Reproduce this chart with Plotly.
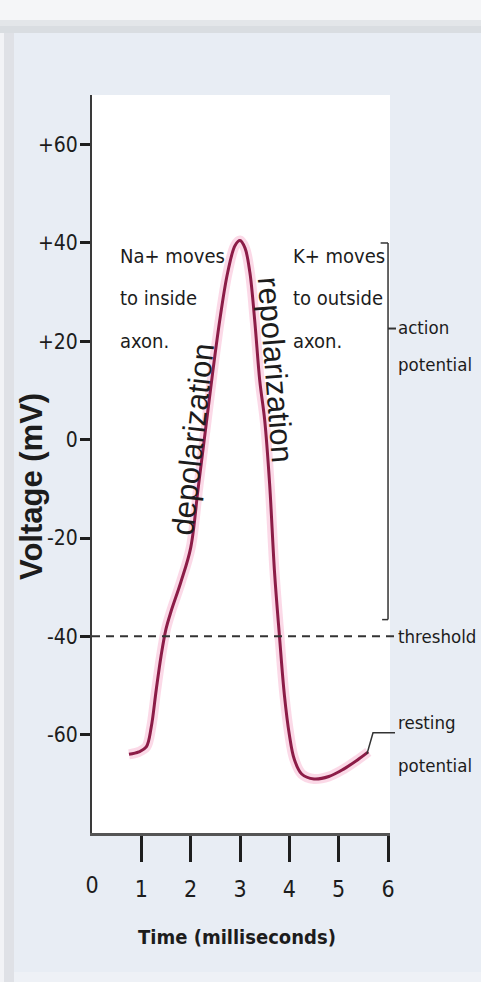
import plotly.graph_objects as go

# ---- data ----
time_ms = [0.75, 0.95, 1.1, 1.2, 1.3, 1.4, 1.5, 1.6, 1.8, 2.0, 2.15, 2.3, 2.45, 2.6, 2.75,
           2.9, 3.0, 3.1, 3.2, 3.3, 3.4, 3.5, 3.6, 3.7, 3.8, 3.9, 4.0, 4.1, 4.25, 4.5,
           4.8, 5.1, 5.4, 5.6]
voltage_mv = [-64, -63.5, -62.5, -58.5, -51, -44, -38.5, -35, -29, -22, -10, 2, 14, 25, 34,
              39.5, 40.5, 39, 34, 24, 12, 4, -9, -27, -40, -52, -60, -65, -68, -69,
              -68.5, -67, -65, -63.5]
y_tick_vals = [60, 40, 20, 0, -20, -40, -60]
y_tick_text = ["+60", "+40", "+20", "0", "-20", "-40", "-60"]
x_tick_vals = [1, 2, 3, 4, 5, 6]
x_tick_text = ["1", "2", "3", "4", "5", "6"]
threshold_mv = -40
action_top_mv = 40
action_bottom_mv = -36.6
X_MAX = 6.04

NARROW = "DejaVu Sans Condensed, Liberation Sans Narrow, sans-serif"
REG = "Liberation Sans, Arial, sans-serif"
TXT = "#1c1c1c"

fig = go.Figure()
# soft pink glow under the curve
fig.add_trace(go.Scatter(x=time_ms, y=voltage_mv, mode="lines",
                         line=dict(color="rgba(240,120,170,0.28)", width=10, shape="spline"),
                         hoverinfo="skip", showlegend=False))
fig.add_trace(go.Scatter(x=time_ms, y=voltage_mv, mode="lines",
                         line=dict(color="#8c1c47", width=3, shape="spline"),
                         showlegend=False))
# helper trace for the overlaid axis carrying the "0" label
fig.add_trace(go.Scatter(x=[0, 6], y=[None, None], xaxis="x2", mode="lines",
                         hoverinfo="skip", showlegend=False))

W, H = 481, 982
fig.update_layout(
    width=W, height=H,
    margin=dict(l=92, r=91, t=95, b=149),
    paper_bgcolor="#e8edf4",
    plot_bgcolor="#ffffff",
    showlegend=False,
    font=dict(family=NARROW, size=22, color=TXT),
    xaxis=dict(range=[0, X_MAX], tickvals=x_tick_vals, ticktext=x_tick_text,
               ticks="outside", ticklen=26, tickwidth=3, tickcolor="#1e1e1e",
               ticklabelstandoff=7,
               showline=True, linecolor="#555555", linewidth=3,
               showgrid=False, zeroline=False,
               tickfont=dict(family=NARROW, size=23, color=TXT)),
    xaxis2=dict(range=[0, X_MAX], overlaying="x", side="bottom", tickvals=[0], ticktext=["0"],
                ticks="", ticklabelstandoff=36, showline=False, showgrid=False, zeroline=False,
                tickfont=dict(family=NARROW, size=23, color=TXT)),
    yaxis=dict(range=[-80, 70.1], tickvals=y_tick_vals, ticktext=y_tick_text,
               ticks="outside", ticklen=10, tickwidth=3, tickcolor="#1e1e1e",
               ticklabelstandoff=-2,
               showline=True, linecolor="#3a3a3a", linewidth=2,
               showgrid=False, zeroline=False,
               tickfont=dict(family=NARROW, size=21, color=TXT)),
)

def px2px(px):
    return (px - 92) / 298.0

def py2py(py):
    return (833 - py) / 738.0

shapes = [
    # background decorations (outer frame)
    dict(type="rect", xref="paper", yref="paper", x0=px2px(0), x1=px2px(481), y0=py2py(0), y1=py2py(20),
         fillcolor="#f5f6f8", line_width=0, layer="below"),
    dict(type="rect", xref="paper", yref="paper", x0=px2px(0), x1=px2px(481), y0=py2py(20), y1=py2py(26),
         fillcolor="#e3e6e9", line_width=0, layer="below"),
    dict(type="rect", xref="paper", yref="paper", x0=px2px(0), x1=px2px(481), y0=py2py(26), y1=py2py(33),
         fillcolor="#d9dde1", line_width=0, layer="below"),
    dict(type="rect", xref="paper", yref="paper", x0=px2px(0), x1=px2px(4), y0=py2py(33), y1=py2py(982),
         fillcolor="#f2f3f6", line_width=0, layer="below"),
    dict(type="rect", xref="paper", yref="paper", x0=px2px(4), x1=px2px(14), y0=py2py(33), y1=py2py(982),
         fillcolor="#dfe1e6", line_width=0, layer="below"),
    dict(type="rect", xref="paper", yref="paper", x0=px2px(14), x1=px2px(481), y0=py2py(972), y1=py2py(982),
         fillcolor="#eef1f6", line_width=0, layer="below"),
    # threshold dashed line
    dict(type="line", xref="paper", yref="y", x0=0, x1=px2px(394), y0=threshold_mv, y1=threshold_mv,
         line=dict(color="#333333", width=2, dash="8px,6px")),
    # action potential bracket
    dict(type="line", xref="x", yref="y", x0=6.0, x1=6.0, y0=action_top_mv, y1=action_bottom_mv,
         line=dict(color="#333333", width=1.5)),
    dict(type="line", xref="x", yref="y", x0=5.85, x1=6.0, y0=action_top_mv, y1=action_top_mv,
         line=dict(color="#333333", width=1.5)),
    dict(type="line", xref="x", yref="y", x0=5.88, x1=6.0, y0=action_bottom_mv, y1=action_bottom_mv,
         line=dict(color="#333333", width=1.5)),
    dict(type="line", xref="paper", yref="y", x0=px2px(388), x1=px2px(396), y0=22.6, y1=22.6,
         line=dict(color="#333333", width=2)),
    # resting potential leader
    dict(type="path", xref="paper", yref="y",
         path="M %.4f,-63.9 L %.4f,-59.6 L %.4f,-59.6" % (px2px(367), px2px(373), px2px(395)),
         line=dict(color="#333333", width=1.5)),
]
fig.update_layout(shapes=shapes)

def ann(x, y, text, xref="x", **kw):
    d = dict(x=x, y=y, xref=xref, yref="y", text=text, showarrow=False,
             xanchor="left", yanchor="middle",
             font=dict(family=NARROW, size=20, color=TXT))
    d.update(kw)
    fig.add_annotation(**d)

ann(0.53, 37.4, "Na+ moves")
ann(0.53, 28.9, "to inside")
ann(0.53, 20.1, "axon.")
ann(4.04, 37.4, "K+ moves")
ann(4.04, 28.9, "to outside")
ann(4.04, 20.1, "axon.")
RX = px2px(396)
RF = dict(family=NARROW, size=18.5, color=TXT)
ann(RX, 22.8, "action", xref="paper", font=RF)
ann(RX, 15.3, "potential", xref="paper", font=RF)
ann(RX, -40.1, "threshold", xref="paper", font=RF)
ann(RX, -57.6, "resting", xref="paper", font=RF)
ann(RX, -66.3, "potential", xref="paper", font=RF)

# rotated phase labels
ann(2.05, 0.0, "depolarization", xanchor="center", textangle=-83.6,
    font=dict(family=REG, size=31, color=TXT))
ann(3.71, 14.2, "repolarization", xanchor="center", textangle=85.6,
    font=dict(family=REG, size=31, color=TXT))

# axis titles
fig.add_annotation(x=px2px(31), y=py2py(487), xref="paper", yref="paper",
                   text="<b>Voltage (mV)</b>", textangle=-90, showarrow=False,
                   xanchor="center", yanchor="middle",
                   font=dict(family=REG, size=31, color=TXT))
fig.add_annotation(x=px2px(237), y=py2py(937), xref="paper", yref="paper",
                   text="<b>Time (milliseconds)</b>", showarrow=False,
                   xanchor="center", yanchor="middle",
                   font=dict(family=NARROW, size=20, color=TXT))

fig.write_html("out.html", config={"displayModeBar": False},
               post_script="document.body.style.margin='0';")
